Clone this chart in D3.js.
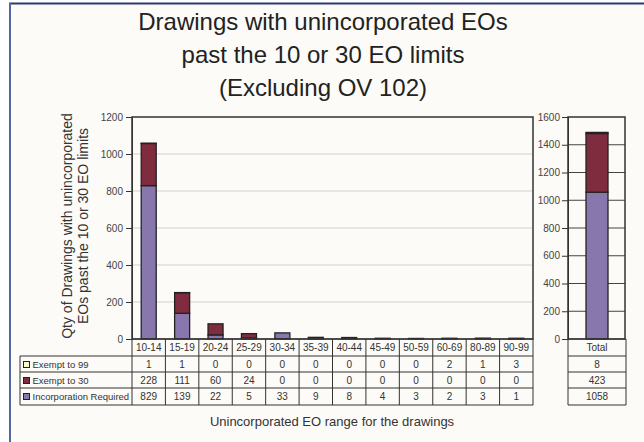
<!DOCTYPE html>
<html>
<head>
<meta charset="utf-8">
<script src="https://cdn.jsdelivr.net/npm/d3@7"></script>
<style>
  body { margin: 0; background: #fff; }
  svg { display: block; font-family: "Liberation Sans", Arial, sans-serif; }
  .axis path { stroke: #333; }
  .axis line { stroke: #333; }
  .axis text { fill: #444; font-size: 10px; }
</style>
</head>
<body>
<svg width="644" height="442"></svg>
<script>
"use strict";

var categories = ["10-14", "15-19", "20-24", "25-29", "30-34", "35-39", "40-44", "45-49", "50-59", "60-69", "80-89", "90-99"];
var exempt99 = [1, 1, 0, 0, 0, 0, 0, 0, 0, 2, 1, 3];
var exempt30 = [228, 111, 60, 24, 0, 0, 0, 0, 0, 0, 0, 0];
var incorporation = [829, 139, 22, 5, 33, 9, 8, 4, 3, 2, 3, 1];
var totals = [8, 423, 1058];
var seriesNames = ["Exempt to 99", "Exempt to 30", "Incorporation Required"];
var leftTicks = [0, 200, 400, 600, 800, 1000, 1200];
var rightTicks = [0, 200, 400, 600, 800, 1000, 1200, 1400, 1600];
var titleLines = ["Drawings with unincorporated EOs", "past the 10 or 30 EO limits", "(Excluding OV 102)"];
var yTitleLines = ["Qty of Drawings with unincorporated", "EOs past the 10 or 30 EO limits"];
var xTitle = "Unincorporated EO range for the drawings";

function drawChart() {
    var colors = ["#fbf8d2", "#7e2c3e", "#8877ac"];
    var svg = d3.select("svg");

    // frame
    svg.append("rect").attr("x", 10).attr("y", 3).attr("width", 640).attr("height", 445).attr("fill", "#fcfbf7");
    svg.append("line").attr("x1", 9).attr("x2", 644).attr("y1", 3.5).attr("y2", 3.5).attr("stroke", "#2c3a70").attr("stroke-width", 2);
    svg.append("line").attr("x1", 10).attr("x2", 10).attr("y1", 3).attr("y2", 442).attr("stroke", "#5567a3").attr("stroke-width", 2);

    // title
    svg.append("text").attr("text-anchor", "middle").attr("fill", "#222").attr("font-size", 24)
        .selectAll("tspan").data(titleLines).enter().append("tspan")
        .attr("x", 323).attr("y", function (d, i) { return 30 + i * 33; }).text(function (d) { return d; });

    var plotTop = 117, base = 339;
    var x = d3.scaleBand().domain(categories).range([132, 533]);
    var y = d3.scaleLinear().domain([0, 1200]).range([base, plotTop]);
    var y2 = d3.scaleLinear().domain([0, 1600]).range([base, plotTop]);

    // gridlines left
    svg.append("g").selectAll("line").data(leftTicks.slice(1, -1)).enter().append("line")
        .attr("x1", 132).attr("x2", 533).attr("y1", function (d) { return y(d); }).attr("y2", function (d) { return y(d); })
        .attr("stroke", "#d8cfcb").attr("stroke-width", 1.2);

    var rows = categories.map(function (c, i) {
        return { cat: c, inc: incorporation[i], e30: exempt30[i], e99: exempt99[i] };
    });
    var stacked = d3.stack().keys(["inc", "e30", "e99"])(rows);
    var colorByKey = { inc: colors[2], e30: colors[1], e99: colors[0] };
    var bw = 15;

    svg.append("g").selectAll("g").data(stacked).enter().append("g")
        .attr("fill", function (s) { return colorByKey[s.key]; })
        .selectAll("rect").data(function (s) { return s.filter(function (d) { return d[1] > d[0]; }); }).enter().append("rect")
        .attr("x", function (d) { return x(d.data.cat) + x.bandwidth() / 2 - bw / 2; })
        .attr("y", function (d) { return y(d[1]); })
        .attr("width", bw)
        .attr("height", function (d) { return y(d[0]) - y(d[1]); })
        .attr("stroke", "#222").attr("stroke-width", 1.3);

    // plot frame
    svg.append("rect").attr("x", 132).attr("y", plotTop).attr("width", 401).attr("height", base - plotTop)
        .attr("fill", "none").attr("stroke", "#333").attr("stroke-width", 1.5);

    svg.append("g").attr("class", "axis").attr("transform", "translate(132,0)")
        .call(d3.axisLeft(y).tickValues(leftTicks).tickFormat(d3.format("d")).tickSize(6).tickPadding(3));

    // right panel
    var bx0 = 568, bx1 = 625;
    svg.append("g").selectAll("line").data(rightTicks.slice(1, -1)).enter().append("line")
        .attr("x1", bx0).attr("x2", bx1).attr("y1", function (d) { return y2(d); }).attr("y2", function (d) { return y2(d); })
        .attr("stroke", "#444").attr("stroke-width", 1);

    var totalRow = [{ key: "inc", v: totals[2] }, { key: "e30", v: totals[1] }, { key: "e99", v: totals[0] }];
    var cum = 0;
    totalRow.forEach(function (d) { d.y0 = cum; cum += d.v; d.y1 = cum; });
    var tbw = 22;
    svg.append("g").selectAll("rect").data(totalRow).enter().append("rect")
        .attr("x", (bx0 + bx1) / 2 - tbw / 2 + 0.5)
        .attr("y", function (d) { return y2(d.y1); })
        .attr("width", tbw)
        .attr("height", function (d) { return y2(d.y0) - y2(d.y1); })
        .attr("fill", function (d) { return colorByKey[d.key]; })
        .attr("stroke", "#222").attr("stroke-width", 1.3);

    svg.append("rect").attr("x", bx0).attr("y", plotTop).attr("width", bx1 - bx0).attr("height", base - plotTop)
        .attr("fill", "none").attr("stroke", "#333").attr("stroke-width", 1.5);
    svg.append("g").attr("class", "axis").attr("transform", "translate(" + bx0 + ",0)")
        .call(d3.axisLeft(y2).tickValues(rightTicks).tickFormat(d3.format("d")).tickSize(6).tickPadding(2));

    // data table
    var rowTops = [339, 356, 372, 388, 405];
    var tableLines = svg.append("g").attr("stroke", "#333").attr("stroke-width", 1);
    tableLines.append("line").attr("x1", 132).attr("x2", 533).attr("y1", rowTops[0]).attr("y2", rowTops[0]);
    rowTops.slice(1).forEach(function (ry) {
        tableLines.append("line").attr("x1", 20).attr("x2", 533).attr("y1", ry).attr("y2", ry);
    });
    tableLines.append("line").attr("x1", 20).attr("x2", 20).attr("y1", rowTops[1]).attr("y2", rowTops[4]);
    var colEdges = categories.map(function (c) { return x(c); }).concat([533]);
    tableLines.selectAll(".col").data(colEdges).enter().append("line")
        .attr("x1", function (d) { return d; }).attr("x2", function (d) { return d; })
        .attr("y1", rowTops[0]).attr("y2", rowTops[4]);

    var tableText = svg.append("g").attr("font-size", 10).attr("fill", "#333").attr("text-anchor", "middle");
    tableText.selectAll(".hdr").data(categories).enter().append("text")
        .attr("x", function (d) { return x(d) + x.bandwidth() / 2; })
        .attr("y", rowTops[0] + 12).text(function (d) { return d; });

    var seriesValues = [exempt99, exempt30, incorporation];
    seriesValues.forEach(function (vals, r) {
        tableText.selectAll(".r" + r).data(vals).enter().append("text")
            .attr("x", function (d, i) { return x(categories[i]) + x.bandwidth() / 2; })
            .attr("y", rowTops[r + 1] + 12).text(function (d) { return d; });
    });

    // legend cells
    var legend = svg.append("g").attr("font-size", 9.5).attr("fill", "#333");
    seriesNames.forEach(function (name, r) {
        legend.append("rect").attr("x", 23.5).attr("y", rowTops[r + 1] + 5.5).attr("width", 6).attr("height", 6)
            .attr("fill", colors[r]).attr("stroke", "#222").attr("stroke-width", 1);
        legend.append("text").attr("x", 32.5).attr("y", rowTops[r + 1] + 12).text(name);
    });

    // total table
    var tl = svg.append("g").attr("stroke", "#333").attr("stroke-width", 1);
    rowTops.forEach(function (ry) {
        tl.append("line").attr("x1", bx0).attr("x2", bx1 + 1).attr("y1", ry).attr("y2", ry);
    });
    [bx0, bx1 + 1].forEach(function (cx) {
        tl.append("line").attr("x1", cx).attr("x2", cx).attr("y1", rowTops[0]).attr("y2", rowTops[4]);
    });
    var totalText = svg.append("g").attr("font-size", 10).attr("fill", "#333").attr("text-anchor", "middle");
    ["Total"].concat(totals).forEach(function (t, r) {
        totalText.append("text").attr("x", (bx0 + bx1 + 1) / 2).attr("y", rowTops[r] + 12).text(t);
    });

    // axis titles
    svg.append("text").attr("transform", "translate(72,226) rotate(-90)").attr("text-anchor", "middle")
        .attr("font-size", 14).attr("fill", "#333")
        .selectAll("tspan").data(yTitleLines).enter().append("tspan")
        .attr("x", 0).attr("y", function (d, i) { return i * 16; }).text(function (d) { return d; });

    svg.append("text").attr("x", 332).attr("y", 426).attr("text-anchor", "middle").attr("font-size", 13)
        .attr("fill", "#333").text(xTitle);
}

drawChart();
</script>
</body>
</html>
